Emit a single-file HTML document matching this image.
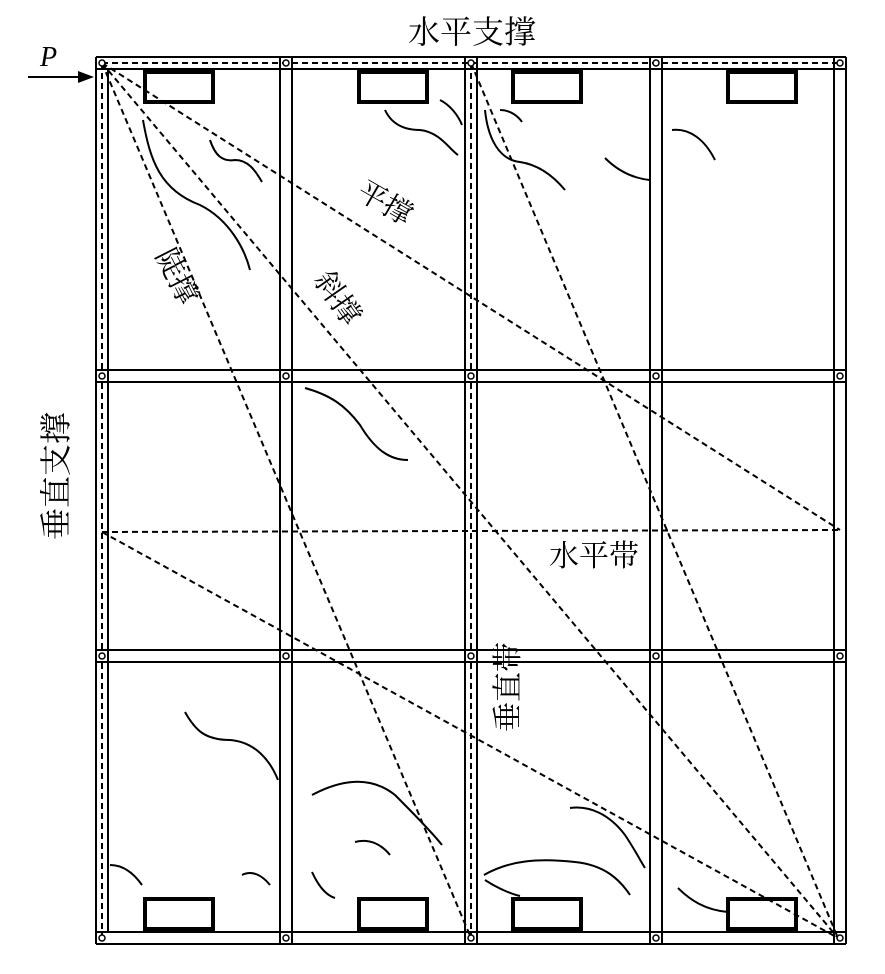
<!DOCTYPE html>
<html><head><meta charset="utf-8"><style>
html,body{margin:0;padding:0;background:#fff;}
svg{display:block}
text{font-family:"Liberation Serif","Noto Serif CJK SC",serif;fill:#000}
</style></head><body>
<svg width="885" height="974" viewBox="0 0 885 974" xmlns="http://www.w3.org/2000/svg">
<g stroke="#000" stroke-width="2" fill="none">
<line x1="96" y1="57" x2="96" y2="944"/><line x1="108" y1="69" x2="108" y2="932"/>
<line x1="280" y1="57" x2="280" y2="944"/><line x1="292" y1="57" x2="292" y2="944"/>
<line x1="465" y1="57" x2="465" y2="944"/><line x1="477" y1="57" x2="477" y2="944"/>
<line x1="650" y1="57" x2="650" y2="944"/><line x1="662" y1="57" x2="662" y2="944"/>
<line x1="834" y1="57" x2="834" y2="944"/><line x1="846" y1="57" x2="846" y2="944"/>
<line x1="96" y1="57" x2="846" y2="57"/><line x1="96" y1="69" x2="846" y2="69"/>
<line x1="96" y1="370" x2="846" y2="370"/><line x1="96" y1="382" x2="846" y2="382"/>
<line x1="96" y1="650" x2="846" y2="650"/><line x1="96" y1="662" x2="846" y2="662"/>
<line x1="96" y1="932" x2="846" y2="932"/><line x1="96" y1="944" x2="846" y2="944"/>
</g>
<g stroke="#000" stroke-width="4" fill="none">
<rect x="145" y="72" width="68" height="30"/><rect x="359" y="72" width="68" height="30"/>
<rect x="513" y="72" width="68" height="30"/><rect x="728" y="72" width="68" height="30"/>
<rect x="145" y="899" width="68" height="30"/><rect x="359" y="899" width="68" height="30"/>
<rect x="513" y="899" width="68" height="30"/><rect x="728" y="899" width="68" height="30"/>
</g>
<g stroke="#000" stroke-width="2" fill="none" stroke-dasharray="6,4">
<line x1="102" y1="63" x2="102" y2="938"/>
<line x1="471" y1="63" x2="471" y2="938"/>
<line x1="102" y1="63" x2="840" y2="63"/>
<line x1="102" y1="532" x2="840" y2="530"/>
<line x1="102" y1="63" x2="840" y2="530"/>
<line x1="102" y1="63" x2="838" y2="938"/>
<line x1="102" y1="63" x2="471" y2="938"/>
<line x1="102" y1="532" x2="838" y2="938"/>
<line x1="471" y1="63" x2="838" y2="938"/>
</g>
<g stroke="#000" stroke-width="1.5" fill="#fff">
<circle cx="102" cy="63" r="3"/><circle cx="286" cy="63" r="3"/><circle cx="471" cy="63" r="3"/><circle cx="656" cy="63" r="3"/><circle cx="840" cy="63" r="3"/>
<circle cx="102" cy="376" r="3"/><circle cx="286" cy="376" r="3"/><circle cx="471" cy="376" r="3"/><circle cx="656" cy="376" r="3"/><circle cx="840" cy="376" r="3"/>
<circle cx="102" cy="656" r="3"/><circle cx="286" cy="656" r="3"/><circle cx="471" cy="656" r="3"/><circle cx="656" cy="656" r="3"/><circle cx="840" cy="656" r="3"/>
<circle cx="102" cy="938" r="3"/><circle cx="286" cy="938" r="3"/><circle cx="471" cy="938" r="3"/><circle cx="656" cy="938" r="3"/><circle cx="840" cy="938" r="3"/>
</g>
<g stroke="#000" stroke-width="2" fill="none">
<path d="M143 120 C150 160,160 190,200 205 C230 220,245 250,250 270"/>
<path d="M210 140 C215 155,222 162,235 160 C248 160,255 170,262 182"/>
<path d="M385 110 C392 125,405 130,420 130 C440 132,450 150,458 155"/>
<path d="M440 100 C450 105,458 115,462 125"/>
<path d="M485 110 C488 140,500 160,520 162 C540 165,555 178,565 190"/>
<path d="M500 110 C510 110,518 116,522 122"/>
<path d="M605 158 C615 168,630 178,650 180"/>
<path d="M672 130 C690 128,705 140,715 160"/>
<path d="M305 388 C330 395,345 405,360 425 C375 450,390 460,408 460"/>
<path d="M185 712 C195 730,205 740,230 740 C255 742,270 760,278 780"/>
<path d="M312 795 C340 780,370 775,395 795 C410 810,430 830,442 845"/>
<path d="M355 842 C370 838,382 845,390 855"/>
<path d="M110 865 C125 865,135 875,142 885"/>
<path d="M242 875 C252 870,262 875,270 885"/>
<path d="M312 872 C318 885,325 895,335 898"/>
<path d="M484 875 C510 860,540 858,575 862 C605 865,620 880,630 895"/>
<path d="M485 880 C500 890,515 895,520 896"/>
<path d="M570 808 C590 805,610 815,625 835 C635 850,640 860,645 868"/>
<path d="M678 888 C690 900,705 910,728 912"/>
</g>
<line x1="28" y1="77" x2="80" y2="77" stroke="#000" stroke-width="2"/>
<polygon points="78,71 94,77 78,83" fill="#000"/>
<text x="40" y="66" font-size="28" font-style="italic">P</text>
<text x="408" y="43" font-size="32">水平支撑</text>
<text font-size="29" transform="translate(355 197) rotate(30)">平撑</text>
<text font-size="29" transform="translate(313 280) rotate(55)">斜撑</text>
<text font-size="29" transform="translate(155 255) rotate(63)">陡撑</text>
<text x="549" y="566" font-size="30">水平带</text>
<text font-size="32" transform="translate(67 540) rotate(-90)">垂直支撑</text>
<text font-size="30" transform="translate(518 732) rotate(-90)">垂直带</text>
</svg>
</body></html>
